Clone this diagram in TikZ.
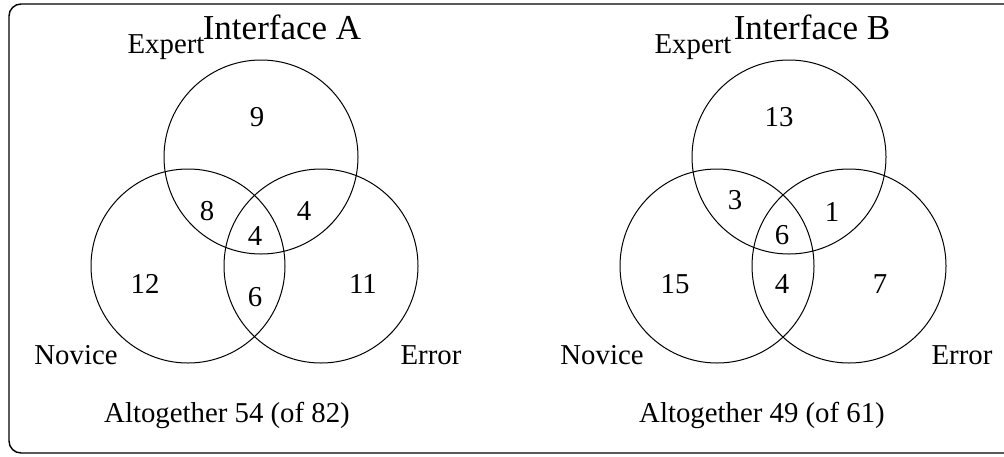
\documentclass[tikz,border=0pt]{standalone}
\usepackage{fontspec}
\setmainfont{Liberation Serif}
\tikzset{
  lbl/.style={inner sep=0pt,font=\fontsize{14.4}{16}\selectfont},
  ttl/.style={inner sep=0pt,font=\fontsize{17.5}{20}\selectfont},
  venn/.style={line width=0.5pt}
}
\begin{document}
\begin{tikzpicture}[x=0.5pt,y=-0.5pt]
  \useasboundingbox (0,0) rectangle (1004,456);
  \draw[line width=0.7pt,rounded corners=6pt] (1030,4) -- (9,4) -- (9,453) -- (1030,453);
  % Interface A
  \node[ttl] (titleA) at (282,27) {Interface A};
  \draw[venn] (261,157) circle (97);
  \draw[venn] (188,266) circle (97);
  \draw[venn] (321,266) circle (97);
  \node[lbl] (expA) at (166,47) {Expert};
  \node[lbl] (novA) at (76,355) {Novice};
  \node[lbl] (errA) at (431,355) {Error};
  \node[lbl] (a1) at (257,117) {9};
  \node[lbl] (a2) at (207,211) {8};
  \node[lbl] (a3) at (304,211) {4};
  \node[lbl] (a4) at (255,236) {4};
  \node[lbl] (a5) at (145,284) {12};
  \node[lbl] (a6) at (255,297) {6};
  \node[lbl] (a7) at (363,284) {11};
  \node[lbl] (sumA) at (227,415) {Altogether 54 (of 82)};
  % Interface B
  \node[ttl] (titleB) at (812,27) {Interface B};
  \draw[venn] (789,157) circle (97);
  \draw[venn] (717,266) circle (97);
  \draw[venn] (849,266) circle (97);
  \node[lbl] (expB) at (693,47) {Expert};
  \node[lbl] (novB) at (602,355) {Novice};
  \node[lbl] (errB) at (962,355) {Error};
  \node[lbl] (b1) at (779,117) {13};
  \node[lbl] (b2) at (735,200) {3};
  \node[lbl] (b3) at (832,212) {1};
  \node[lbl] (b4) at (782,235) {6};
  \node[lbl] (b5) at (675,284) {15};
  \node[lbl] (b6) at (782,284) {4};
  \node[lbl] (b7) at (880,284) {7};
  \node[lbl] (sumB) at (762,415) {Altogether 49 (of 61)};
\end{tikzpicture}
\end{document}
